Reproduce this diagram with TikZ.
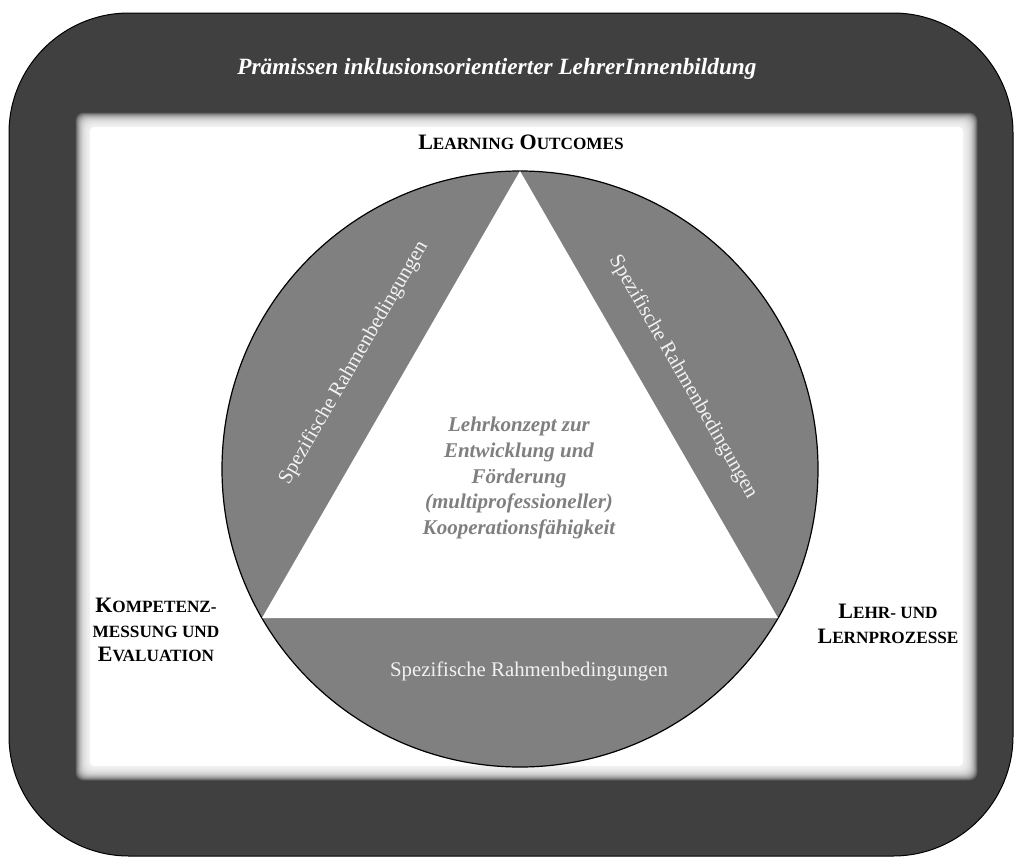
\documentclass[tikz,border=0pt]{standalone}
\usepackage{fontspec}
\setmainfont{Liberation Serif}
\definecolor{framegray}{HTML}{404040}
\definecolor{segmentgray}{HTML}{808080}
\definecolor{segtext}{HTML}{F2F2F2}
\definecolor{centertext}{HTML}{7F7F7F}
\newcommand{\smcap}[1]{{\fontsize{17.2}{20}\selectfont #1}}
\begin{document}
\begin{tikzpicture}[x=1pt,y=-1pt,
  segtextstyle/.style={text=segtext, font=\fontsize{20.8}{23}\selectfont, inner sep=0pt},
  cornerlabel/.style={font=\bfseries\fontsize{22}{24.8}\selectfont, align=center, inner sep=0pt, text=black}]
\useasboundingbox (0,0) rectangle (1015,857);
% outer dark frame
\fill[framegray, draw=black, line width=1pt, rounded corners=120pt] (9,13) rectangle (1013,856);
% blurred white field
\foreach \i in {0,...,27} {
  \pgfmathsetmacro{\d}{7.5-0.5*\i}
  \fill[white, opacity=0.1, rounded corners=8pt] ({83-\d},{120-\d}) rectangle ({970+\d},{773+\d});
}
\fill[white, rounded corners=4pt] (90,127) rectangle (963,766);
% circle and triangle
\draw[fill=segmentgray, draw=black, line width=1.2pt] (520,469) circle [radius=298];
\fill[white] (520,171) -- (262,618) -- (778,618) -- cycle;
% texts
\node[font=\bfseries\itshape\fontsize{23.3}{27}\selectfont, text=white, anchor=base, inner sep=0pt] (title) at (497,74) {Prämissen inklusionsorientierter LehrerInnenbildung};
\node[cornerlabel, anchor=base] (lo) at (521,149) {L\smcap{EARNING} O\smcap{UTCOMES}};
\node[cornerlabel] (kme) at (156,630) {K\smcap{OMPETENZ-}\\\smcap{MESSUNG UND}\\E\smcap{VALUATION}};
\node[cornerlabel] (llp) at (888,624) {L\smcap{EHR- UND}\\L\smcap{ERNPROZESSE}};
\node[font=\bfseries\itshape\fontsize{21}{25.7}\selectfont, text=centertext, align=center, inner sep=0pt] (concept) at (519,478) {Lehrkonzept zur\\Entwicklung und\\Förderung\\(multiprofessioneller)\\Kooperationsfähigkeit};
\node[segtextstyle, rotate=60] (segleft) at (354,363) {Spezifische Rahmenbedingungen};
\node[segtextstyle, rotate=-60] (segright) at (683,377) {Spezifische Rahmenbedingungen};
\node[segtextstyle] (segbottom) at (529,671) {Spezifische Rahmenbedingungen};
\end{tikzpicture}
\end{document}
